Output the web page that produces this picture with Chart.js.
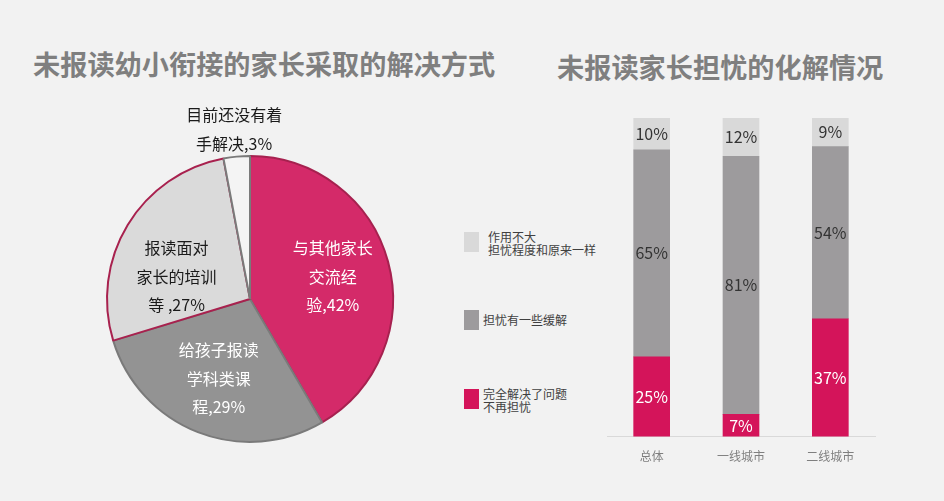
<!DOCTYPE html>
<html>
<head>
<meta charset="utf-8">
<script src="https://cdn.jsdelivr.net/npm/chart.js@4"></script>
<style>
  body { margin: 0; background: #f2f2f2; font-family: "Noto Sans CJK SC", sans-serif; }
  #page { position: relative; width: 944px; height: 501px; overflow: hidden; background: #f2f2f2; }
  .title { position: absolute; font-size: 27.2px; font-weight: bold; color: #7f7f7f; white-space: nowrap; line-height: 30px; }
  #pieWrap { position: absolute; left: 50px; top: 99px; width: 400px; height: 400px; }
  #barWrap { position: absolute; left: 600px; top: 110px; width: 282px; height: 367px; }
  .legend-item { position: absolute; font-size: 12px; color: #404040; line-height: 13px; white-space: nowrap; }
  .legend-box { position: absolute; width: 15px; height: 20px; }
</style>
</head>
<body>
<div id="page">
  <div class="title" style="left:33px; top:48px;">未报读幼小衔接的家长采取的解决方式</div>
  <div class="title" style="left:557px; top:51px;">未报读家长担忧的化解情况</div>
  <div id="pieWrap"><canvas id="pieChart"></canvas></div>
  <div id="legend"></div>
  <div id="barWrap"><canvas id="barChart"></canvas></div>
</div>
<script>
// 左图：解决方式
const pieValues = [42, 29, 27, 3];
const pieLabels = [
    ['与其他家长', '交流经', '验,42%'],
    ['给孩子报读', '学科类课', '程,29%'],
    ['报读面对', '家长的培训', '等 ,27%'],
    ['目前还没有着', '手解决,3%']
];

// 右图：担忧化解情况
const cities = ['总体', '一线城市', '二线城市'];
const seriesNames = [
    ['完全解决了问题', '不再担忧'],
    ['担忧有一些缓解'],
    ['作用不大', '担忧程度和原来一样']
];
const solved = [25, 7, 37];
const eased = [65, 81, 54];
const same = [10, 12, 9];

const pieColors = ['#d42a69', '#939393', '#dadada', '#f4f4f4'];
const pieBorders = ['#a6214f', '#7a7a7a', '#a8214e', '#7a7a7a'];
const pieTextColors = ['#ffffff', '#ffffff', '#1a1a1a', '#1a1a1a'];
const labelRadius = [0.6, 0.6, 0.6, 1.19];
const labelShiftY = [0, 0, 22, 0];

const barColors = ['#d4145a', '#9d9b9d', '#d9d9d9'];
const barTextColors = ['#ffffff', '#333333', '#333333'];

const cjkFont = '"Noto Sans CJK SC", sans-serif';

const pieLabelPlugin = {
    id: 'pieLabels',
    afterDatasetsDraw(chart) {
        const ctx = chart.ctx;
        const arcs = chart.getDatasetMeta(0).data;
        ctx.save();
        ctx.font = '16px ' + cjkFont;
        ctx.textAlign = 'center';
        ctx.textBaseline = 'middle';
        arcs.forEach((arc, i) => {
            const mid = (arc.startAngle + arc.endAngle) / 2;
            const r = arc.outerRadius * labelRadius[i];
            const cx = arc.x + Math.cos(mid) * r;
            const cy = arc.y + Math.sin(mid) * r + labelShiftY[i];
            const lines = pieLabels[i];
            const lh = 28.5;
            ctx.fillStyle = pieTextColors[i];
            lines.forEach((line, j) => {
                ctx.fillText(line, cx, cy + (j - (lines.length - 1) / 2) * lh);
            });
        });
        ctx.restore();
    }
};

const barLabelPlugin = {
    id: 'barLabels',
    afterDatasetsDraw(chart) {
        const ctx = chart.ctx;
        ctx.save();
        ctx.font = '16px ' + cjkFont;
        ctx.textAlign = 'center';
        ctx.textBaseline = 'middle';
        chart.data.datasets.forEach((ds, di) => {
            chart.getDatasetMeta(di).data.forEach((bar, i) => {
                const yMid = (bar.y + bar.base) / 2;
                ctx.fillStyle = barTextColors[di];
                ctx.fillText(ds.data[i] + '%', bar.x, yMid);
            });
        });
        ctx.restore();
    }
};

new Chart(document.getElementById('pieChart'), {
    type: 'pie',
    data: {
        labels: pieLabels.map(l => l.join('')),
        datasets: [{
            data: pieValues,
            backgroundColor: pieColors,
            borderColor: pieBorders,
            borderWidth: 2,
            hoverOffset: 0
        }]
    },
    options: {
        responsive: true,
        maintainAspectRatio: false,
        animation: false,
        layout: { padding: 56 },
        plugins: {
            legend: { display: false },
            tooltip: { enabled: false }
        }
    },
    plugins: [pieLabelPlugin]
});

new Chart(document.getElementById('barChart'), {
    type: 'bar',
    data: {
        labels: cities,
        datasets: [
            { label: seriesNames[0].join(''), data: solved, backgroundColor: barColors[0], barThickness: 36 },
            { label: seriesNames[1].join(''), data: eased, backgroundColor: barColors[1], barThickness: 36 },
            { label: seriesNames[2].join(''), data: same, backgroundColor: barColors[2], barThickness: 36 }
        ]
    },
    options: {
        responsive: true,
        maintainAspectRatio: false,
        animation: false,
        layout: { padding: { top: 8, left: 7, right: 7, bottom: 0 } },
        plugins: {
            legend: { display: false },
            tooltip: { enabled: false }
        },
        scales: {
            x: {
                stacked: true,
                grid: { display: false, drawTicks: false },
                border: { display: true, color: '#d9d9d9', width: 1 },
                ticks: { color: '#7f7f7f', font: { size: 12, family: cjkFont }, padding: 13 }
            },
            y: {
                stacked: true,
                display: false,
                min: 0,
                max: 100
            }
        }
    },
    plugins: [barLabelPlugin]
});

// 图例（从上到下）
const legendTops = [232, 310, 389];
const legendOrder = [2, 1, 0];
const legendDiv = document.getElementById('legend');
legendOrder.forEach((si, k) => {
    const box = document.createElement('div');
    box.className = 'legend-box';
    box.style.left = '464px';
    box.style.top = legendTops[k] + 'px';
    box.style.background = barColors[si];
    legendDiv.appendChild(box);
    const txt = document.createElement('div');
    txt.className = 'legend-item';
    txt.style.left = (si === 2 ? 488 : 483) + 'px';
    const lines = seriesNames[si];
    txt.style.top = (lines.length === 1 ? legendTops[k] + 3 : legendTops[k] - 2) + 'px';
    txt.innerHTML = lines.join('<br>');
    legendDiv.appendChild(txt);
});
</script>
</body>
</html>
